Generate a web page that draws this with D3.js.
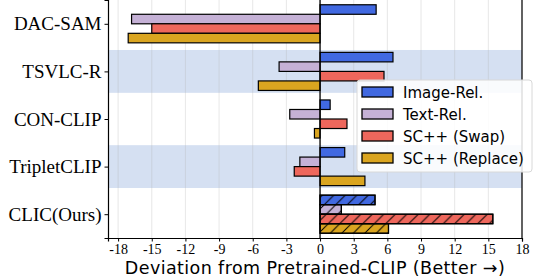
<!DOCTYPE html>
<html>
<head>
<meta charset="utf-8">
<script src="https://cdn.jsdelivr.net/npm/d3@7"></script>
<style>
  body { margin: 0; background: #fff; }
  svg { display: block; }
</style>
</head>
<body>
<svg width="534" height="278"></svg>
<script>
var categories = ['DAC-SAM', 'TSVLC-R', 'CON-CLIP', 'TripletCLIP', 'CLIC(Ours)']
var seriesNames = ['Image-Rel.', 'Text-Rel.', 'SC++ (Swap)', 'SC++ (Replace)']
var imageRel = [5.0, 6.5, 0.9, 2.2, 4.9]
var textRel = [-16.8, -3.65, -2.7, -1.8, 1.9]
var scSwap = [-15.0, 5.7, 2.4, -2.3, 15.4]
var scReplace = [-17.1, -5.5, -0.5, 4.0, 6.1]
var xTicks = [-18, -15, -12, -9, -6, -3, 0, 3, 6, 9, 12, 15, 18]
var shadedRows = ['TSVLC-R', 'TripletCLIP']
var hatchedRows = ['CLIC(Ours)']

var colors = ['#4169e1', '#c5b1d6', '#ee675c', '#daa520']
var series = [imageRel, textRel, scSwap, scReplace]

var draw = () => {
  var svg = d3.select('svg')
  var margin = {top: 0, right: 12, bottom: 40, left: 108}
  var width = 534
  var height = 278

  var x = d3.scaleLinear()
    .domain([-18.9, 18])
    .range([margin.left, width - margin.right])

  var y = d3.scaleLinear()
    .domain([-0.5, categories.length - 0.5])
    .range([margin.top, height - margin.bottom])
  var step = y(1) - y(0)

  // hatch pattern for our method
  var defs = svg.append('defs')
  var pat = defs.append('pattern')
    .attr('id', 'hatch')
    .attr('patternUnits', 'userSpaceOnUse')
    .attr('width', 11.5)
    .attr('height', 11.5)
  pat.append('path')
    .attr('d', 'M-1,12.5 L12.5,-1 M-6,6 L6,-6 M5.5,17.5 L17.5,5.5')
    .attr('stroke', '#000')
    .attr('stroke-width', 1)

  // shaded rows
  svg.append('g').selectAll('rect')
    .data(shadedRows).enter().append('rect')
    .attr('x', x.range()[0])
    .attr('width', x.range()[1] - x.range()[0])
    .attr('y', d => y(categories.indexOf(d) - 0.45))
    .attr('height', step * 0.9)
    .attr('fill', '#d5e0f2')

  // grid
  svg.append('g').selectAll('line')
    .data(xTicks).enter().append('line')
    .attr('x1', d => x(d)).attr('x2', d => x(d))
    .attr('y1', y.range()[0]).attr('y2', y.range()[1])
    .attr('stroke', '#b0b0b0')
    .attr('stroke-opacity', 0.35)
    .attr('stroke-width', 0.9)

  // bars
  var barH = step * 0.2
  var rows = []
  categories.forEach((c, i) => {
    series.forEach((s, j) => {
      rows.push({cat: c, i: i, j: j, v: s[i]})
    })
  })
  var bars = svg.append('g')
  bars.selectAll('rect.bar')
    .data(rows).enter().append('rect')
    .attr('class', 'bar')
    .attr('x', d => x(Math.min(0, d.v)))
    .attr('width', d => Math.abs(x(d.v) - x(0)))
    .attr('y', d => y(d.i) + (d.j - 2) * barH)
    .attr('height', barH)
    .attr('fill', d => colors[d.j])
    .attr('stroke', '#000')
    .attr('stroke-width', 1.2)
  bars.selectAll('rect.hatch')
    .data(rows.filter(d => hatchedRows.includes(d.cat))).enter().append('rect')
    .attr('class', 'hatch')
    .attr('x', d => x(Math.min(0, d.v)))
    .attr('width', d => Math.abs(x(d.v) - x(0)))
    .attr('y', d => y(d.i) + (d.j - 2) * barH)
    .attr('height', barH)
    .attr('fill', 'url(#hatch)')
    .attr('stroke', '#000')
    .attr('stroke-width', 1.2)

  // zero line
  svg.append('line')
    .attr('x1', x(0)).attr('x2', x(0))
    .attr('y1', y.range()[0]).attr('y2', y.range()[1])
    .attr('stroke', '#000')
    .attr('stroke-width', 1.3)

  // right spine
  svg.append('line')
    .attr('x1', x.range()[1]).attr('x2', x.range()[1])
    .attr('y1', y.range()[0]).attr('y2', y.range()[1])
    .attr('stroke', '#000')
    .attr('stroke-width', 1.2)

  // axes
  var xAxis = svg.append('g')
    .attr('transform', `translate(0, ${y.range()[1]})`)
    .call(d3.axisBottom(x).tickValues(xTicks).tickSize(3.5).tickPadding(3).tickFormat(d => String(d)))
  xAxis.select('.domain').attr('stroke-width', 1.2)
  xAxis.selectAll('text')
    .attr('font-family', 'Liberation Serif, serif')
    .attr('font-size', 14)
    .attr('fill', '#000')

  var yAxis = svg.append('g')
    .attr('transform', `translate(${x.range()[0]}, 0)`)
    .call(d3.axisLeft(y).tickValues(d3.range(categories.length)).tickSize(3.5).tickPadding(3).tickFormat(i => categories[i]))
  yAxis.select('.domain').attr('stroke-width', 1.2)
  yAxis.selectAll('text')
    .attr('font-family', 'Liberation Serif, serif')
    .attr('font-size', 19)
    .attr('fill', '#000')

  svg.append('text')
    .attr('x', (x.range()[0] + x.range()[1]) / 2)
    .attr('y', 274)
    .attr('text-anchor', 'middle')
    .attr('font-family', 'DejaVu Sans, sans-serif')
    .attr('font-size', 17.5)
    .attr('letter-spacing', 0.4)
    .attr('fill', '#000')
    .text('Deviation from Pretrained-CLIP (Better \u2192)')

  // legend
  var lg = svg.append('g').attr('transform', 'translate(357, 80)')
  lg.append('rect')
    .attr('width', 175).attr('height', 92)
    .attr('rx', 3)
    .attr('fill', '#fff').attr('fill-opacity', 0.85)
    .attr('stroke', '#d8d8d8').attr('stroke-width', 1)
  seriesNames.forEach((name, j) => {
    var cy = 12 + j * 22
    lg.append('rect')
      .attr('x', 5).attr('y', cy - 5)
      .attr('width', 31).attr('height', 10)
      .attr('fill', colors[j])
      .attr('stroke', '#000').attr('stroke-width', 1.3)
    lg.append('text')
      .attr('x', 46).attr('y', cy + 5.5)
      .attr('font-family', 'DejaVu Sans, sans-serif')
      .attr('font-size', 15)
      .attr('fill', '#000')
      .text(name)
  })
}

if (document.readyState === 'loading') {
  document.addEventListener('DOMContentLoaded', draw)
} else {
  draw()
}
</script>
</body>
</html>
